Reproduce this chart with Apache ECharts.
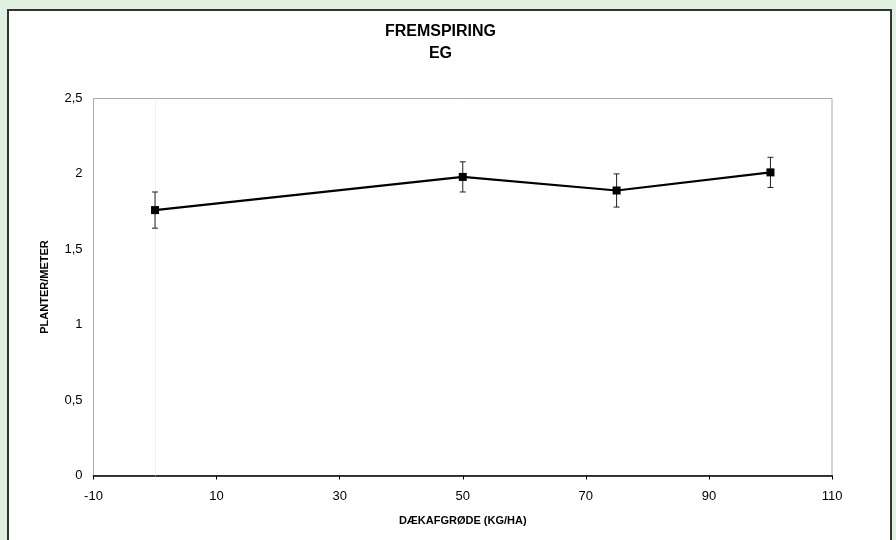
<!DOCTYPE html>
<html>
<head>
<meta charset="utf-8">
<script src="https://cdn.jsdelivr.net/npm/echarts@6/dist/echarts.min.js"></script>
<style>
html,body{margin:0;padding:0;background:#e2f0e2;}
#c{width:896px;height:540px;}
</style>
</head>
<body>
<div id="c"></div>
<script>
var xValues = [0, 50, 75, 100];
var yValues = [1.76, 1.98, 1.89, 2.01];
var yErrors = [0.12, 0.10, 0.11, 0.10];
var titleLines = ['FREMSPIRING', 'EG'];
var xName = 'DÆKAFGRØDE (KG/HA)';
var yName = 'PLANTER/METER';

var font = '"Liberation Sans", Arial, sans-serif';
var lineData = xValues.map(function (x, i) { return [x, yValues[i]]; });
var errData = xValues.map(function (x, i) { return [x, yValues[i] - yErrors[i], yValues[i] + yErrors[i]]; });

var chart = echarts.init(document.getElementById('c'));
chart.setOption({
  backgroundColor: '#e2f0e2',
  animation: false,
  graphic: [
    { type: 'rect', z: -10, shape: { x: 8, y: 10, width: 883, height: 540 },
      style: { fill: '#ffffff', stroke: '#333333', lineWidth: 2 } },
    { type: 'text', z: 10, x: 440.5, y: 21,
      style: { text: titleLines.join('\n'), font: 'bold 16px ' + font, fill: '#000',
               align: 'center', lineHeight: 22 } }
  ],
  grid: { left: 93.5, right: 64, top: 98.5, bottom: 64.5, show: true,
          borderColor: '#aaaaaa', borderWidth: 1, backgroundColor: '#ffffff' },
  xAxis: {
    type: 'value', min: -10, max: 110, interval: 20,
    name: xName, nameLocation: 'middle', nameGap: 40,
    nameTextStyle: { fontFamily: font, fontWeight: 'bold', fontSize: 11, color: '#000' },
    axisLine: { show: true, onZero: false, lineStyle: { color: '#000', width: 1.5 } },
    axisTick: { show: true, inside: false, length: 4, lineStyle: { color: '#000' } },
    axisLabel: { fontFamily: font, fontSize: 13, color: '#000', margin: 14 },
    splitLine: { show: false }
  },
  yAxis: {
    type: 'value', min: 0, max: 2.5, interval: 0.5,
    name: yName, nameLocation: 'middle', nameGap: 43, nameRotate: 90,
    nameTextStyle: { fontFamily: font, fontWeight: 'bold', fontSize: 11, color: '#000' },
    axisLine: { show: true, lineStyle: { color: '#999999', width: 1 } },
    axisTick: { show: false },
    axisLabel: { fontFamily: font, fontSize: 13, color: '#000', margin: 11,
                 formatter: function (v) { return String(v).replace('.', ','); } },
    splitLine: { show: false }
  },
  series: [
    {
      type: 'line', z: 1, data: [], silent: true,
      markLine: {
        silent: true, symbol: 'none', label: { show: false }, z: 1,
        lineStyle: { color: '#eef2f6', width: 1, type: 'solid' },
        data: [{ xAxis: 0 }]
      }
    },
    {
      type: 'custom', z: 3,
      data: errData,
      encode: { x: 0, y: [1, 2] },
      renderItem: function (params, api) {
        var x = api.value(0);
        var lo = api.coord([x, api.value(1)]);
        var hi = api.coord([x, api.value(2)]);
        var w = 3;
        var st = { stroke: '#222', lineWidth: 1 };
        return { type: 'group', children: [
          { type: 'line', shape: { x1: lo[0], y1: lo[1], x2: hi[0], y2: hi[1] }, style: st },
          { type: 'line', shape: { x1: lo[0] - w, y1: lo[1], x2: lo[0] + w, y2: lo[1] }, style: st },
          { type: 'line', shape: { x1: hi[0] - w, y1: hi[1], x2: hi[0] + w, y2: hi[1] }, style: st }
        ] };
      }
    },
    {
      type: 'line', z: 5,
      data: lineData,
      symbol: 'rect', symbolSize: 8,
      itemStyle: { color: '#000' },
      lineStyle: { color: '#000', width: 2.2 }
    }
  ]
});
</script>
</body>
</html>
